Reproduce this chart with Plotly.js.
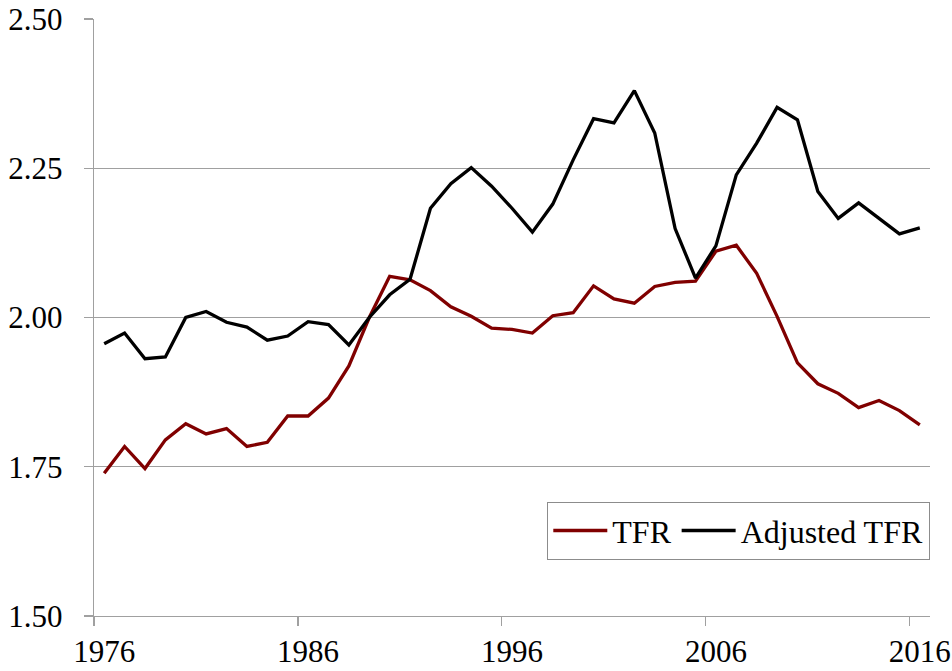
<!DOCTYPE html>
<html>
<head>
<meta charset="utf-8">
<script src="https://cdn.plot.ly/plotly-3.0.1.min.js"></script>
<style>
  html, body { margin: 0; padding: 0; background: #fff; }
  #chart { width: 952px; height: 671px; }
</style>
</head>
<body>
<div id="chart"></div>
<script>
var years = [1976, 1977, 1978, 1979, 1980, 1981, 1982, 1983, 1984, 1985,
             1986, 1987, 1988, 1989, 1990, 1991, 1992, 1993, 1994, 1995,
             1996, 1997, 1998, 1999, 2000, 2001, 2002, 2003, 2004, 2005,
             2006, 2007, 2008, 2009, 2010, 2011, 2012, 2013, 2014, 2015, 2016]

var tfr = [1.739, 1.784, 1.747, 1.795, 1.822, 1.805, 1.814, 1.784, 1.791, 1.835,
           1.835, 1.865, 1.919, 2.000, 2.069, 2.063, 2.045, 2.018, 2.002, 1.982,
           1.980, 1.974, 2.003, 2.008, 2.053, 2.031, 2.024, 2.052, 2.059, 2.061,
           2.111, 2.121, 2.074, 2.002, 1.924, 1.889, 1.873, 1.849, 1.861, 1.844, 1.820]

var adjusted_tfr = [1.956, 1.974, 1.931, 1.934, 2.000, 2.010, 1.992, 1.984, 1.962, 1.969,
                    1.993, 1.988, 1.954, 2.000, 2.038, 2.064, 2.183, 2.224, 2.251, 2.220,
                    2.183, 2.143, 2.190, 2.264, 2.333, 2.326, 2.380, 2.309, 2.149, 2.066,
                    2.120, 2.239, 2.292, 2.352, 2.331, 2.211, 2.166, 2.192, 2.166, 2.140, 2.150]

var year_labels = [1976, 1986, 1996, 2006, 2016]

var serif = 'Liberation Serif, Times New Roman, serif'

var trace1 = {
    x: years,
    y: tfr,
    name: 'TFR',
    type: 'scatter',
    mode: 'lines',
    line: {color: '#800000', width: 3.3},
}

var trace2 = {
    x: years,
    y: adjusted_tfr,
    name: 'Adjusted TFR',
    type: 'scatter',
    mode: 'lines',
    line: {color: '#000000', width: 3.3},
}

var layout = {
    width: 952,
    height: 671,
    margin: {l: 94, r: 22, t: 19, b: 55, pad: 0},
    paper_bgcolor: 'white',
    plot_bgcolor: 'white',
    font: {family: serif, size: 31, color: 'black'},
    showlegend: true,
    xaxis: {
        range: [1975.5, 2016.5],
        showgrid: false,
        zeroline: false,
        showline: true,
        linecolor: '#a0a0a0',
        linewidth: 1.3,
        tickmode: 'array',
        tickvals: year_labels,
        ticktext: year_labels.map(String),
        ticks: '',
        ticklabelstandoff: 7,
        tickfont: {family: serif, size: 31, color: 'black'},
        minor: {
            tick0: 1975.5,
            dtick: 10,
            ticks: 'outside',
            ticklen: 9,
            tickwidth: 1.3,
            tickcolor: '#a0a0a0',
            showgrid: false,
        },
    },
    yaxis: {
        range: [1.5, 2.5],
        tickmode: 'linear',
        tick0: 1.5,
        dtick: 0.25,
        tickformat: '.2f',
        showgrid: true,
        gridcolor: '#a0a0a0',
        gridwidth: 1.3,
        zeroline: false,
        showline: true,
        linecolor: '#a0a0a0',
        linewidth: 1.3,
        ticks: 'outside',
        ticklen: 9,
        tickwidth: 1.3,
        tickcolor: '#a0a0a0',
        ticklabelstandoff: 15,
        tickfont: {family: serif, size: 31, color: 'black'},
    },
    legend: {
        orientation: 'h',
        x: 1,
        xanchor: 'right',
        y: 0.094,
        yanchor: 'bottom',
        itemwidth: 54,
        bgcolor: 'white',
        bordercolor: '#8c8c8c',
        borderwidth: 1.3,
        font: {family: serif, size: 32, color: 'black'},
    },
}

Plotly.newPlot('chart', [trace1, trace2], layout, {displayModeBar: false, staticPlot: true})
</script>
</body>
</html>
